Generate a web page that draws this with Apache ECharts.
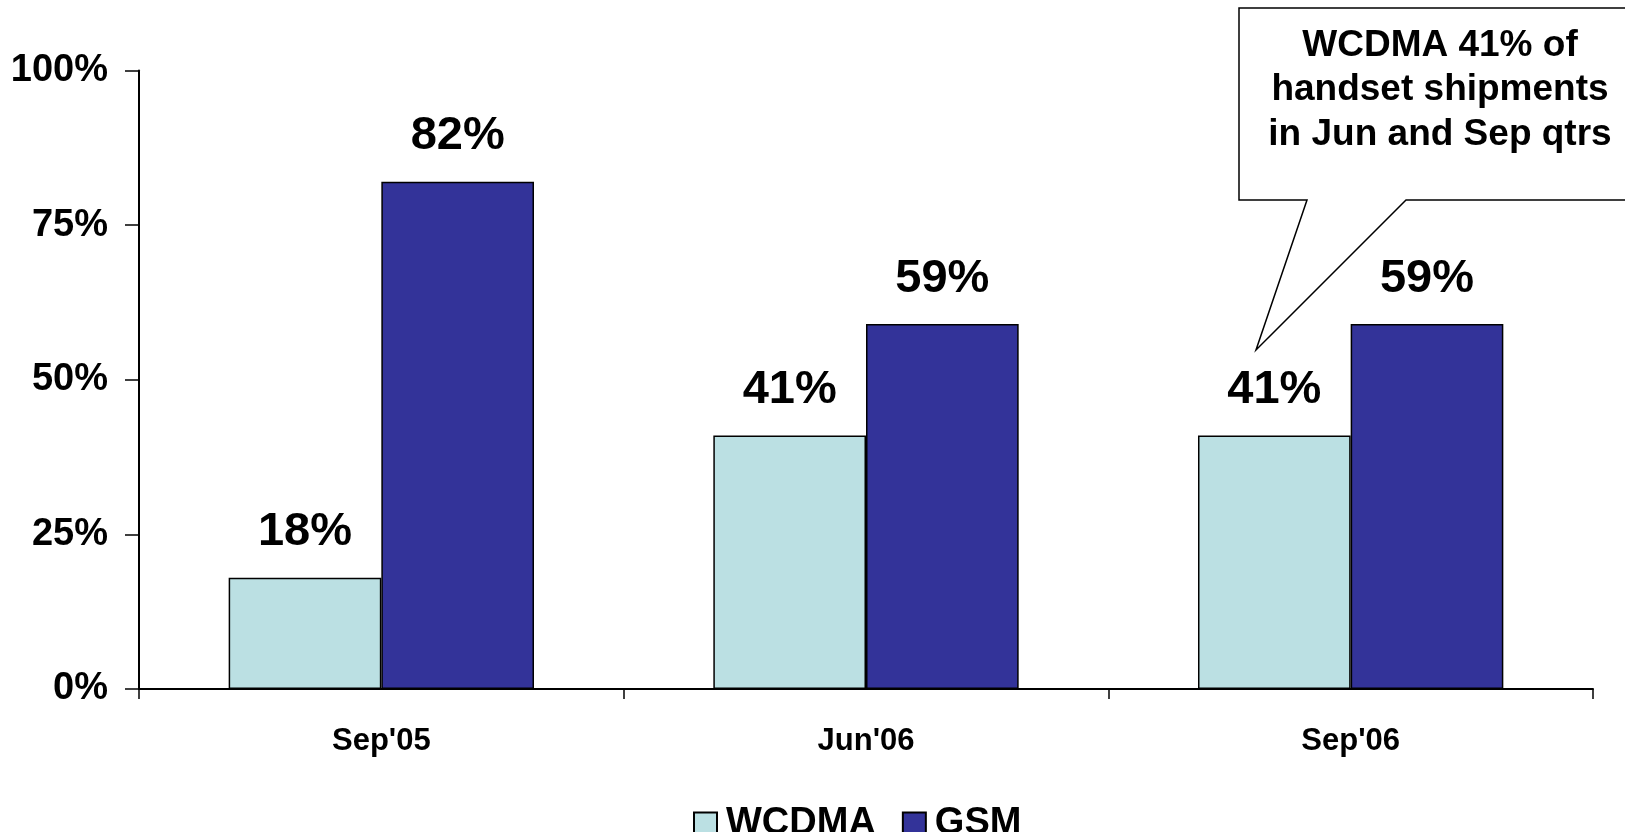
<!DOCTYPE html>
<html>
<head>
<meta charset="utf-8">
<script src="https://cdn.jsdelivr.net/npm/echarts@6/dist/echarts.min.js"></script>
<style>
html,body{margin:0;padding:0;background:#fff;}
#chart{width:1625px;height:832px;}
</style>
</head>
<body>
<div id="chart"></div>
<script>
const categories = ["Sep'05", "Jun'06", "Sep'06"];
const wcdmaValues = [18, 41, 41];
const gsmValues = [82, 59, 59];
const yTicks = [0, 25, 50, 75, 100];
const calloutText = "WCDMA 41% of\nhandset shipments\nin Jun and Sep qtrs";

const FONT = "Arial, 'Liberation Sans', sans-serif";
const chart = echarts.init(document.getElementById('chart'), null, {renderer: 'canvas'});

const labelStyle = {
  show: true,
  position: 'top',
  distance: 22,
  formatter: '{c}%',
  color: '#000',
  fontFamily: FONT,
  fontWeight: 'bold',
  fontSize: 47
};

chart.setOption({
  animation: false,
  backgroundColor: '#fff',
  grid: {left: 139, right: 32, top: 70.5, bottom: 143, containLabel: false},
  legend: {
    left: 688, top: 800,
    itemWidth: 23, itemHeight: 23, itemGap: 26,
    icon: 'rect',
    textStyle: {color: '#000', fontFamily: FONT, fontWeight: 'bold', fontSize: 38, padding: [0,0,0,4]},
    data: ['WCDMA', 'GSM']
  },
  xAxis: {
    type: 'category',
    data: categories,
    axisLine: {lineStyle: {color: '#000', width: 2}},
    axisTick: {show: true, length: 10, lineStyle: {color: '#000', width: 1.5}},
    axisLabel: {color: '#000', fontFamily: FONT, fontWeight: 'bold', fontSize: 31, margin: 37}
  },
  yAxis: {
    type: 'value',
    min: yTicks[0], max: yTicks[yTicks.length - 1], interval: yTicks[1] - yTicks[0],
    axisLine: {show: true, lineStyle: {color: '#000', width: 2}},
    axisTick: {show: true, length: 14, lineStyle: {color: '#000', width: 1.5}},
    splitLine: {show: false},
    axisLabel: {color: '#000', fontFamily: FONT, fontWeight: 'bold', fontSize: 38, margin: 31, formatter: '{value}%'}
  },
  series: [
    {
      name: 'WCDMA', type: 'bar', data: wcdmaValues,
      barGap: '0%', barCategoryGap: '37%',
      itemStyle: {color: '#BBE0E3', borderColor: '#000', borderWidth: 1.5},
      label: labelStyle
    },
    {
      name: 'GSM', type: 'bar', data: gsmValues,
      barGap: '0%', barCategoryGap: '37%',
      itemStyle: {color: '#333399', borderColor: '#000', borderWidth: 1.5},
      label: labelStyle
    }
  ],
  graphic: [
    {
      type: 'polygon', z: 100,
      shape: {points: [[1239, 8], [1632, 8], [1632, 200], [1406, 200], [1256, 350], [1307, 200], [1239, 200]]},
      style: {fill: '#fff', stroke: '#000', lineWidth: 1.5}
    },
    {
      type: 'text', z: 101, x: 1440, y: 90,
      style: {
        text: calloutText, align: 'center', verticalAlign: 'middle',
        font: 'bold 37px ' + FONT, lineHeight: 44.6, fill: '#000'
      }
    }
  ]
});
</script>
</body>
</html>
